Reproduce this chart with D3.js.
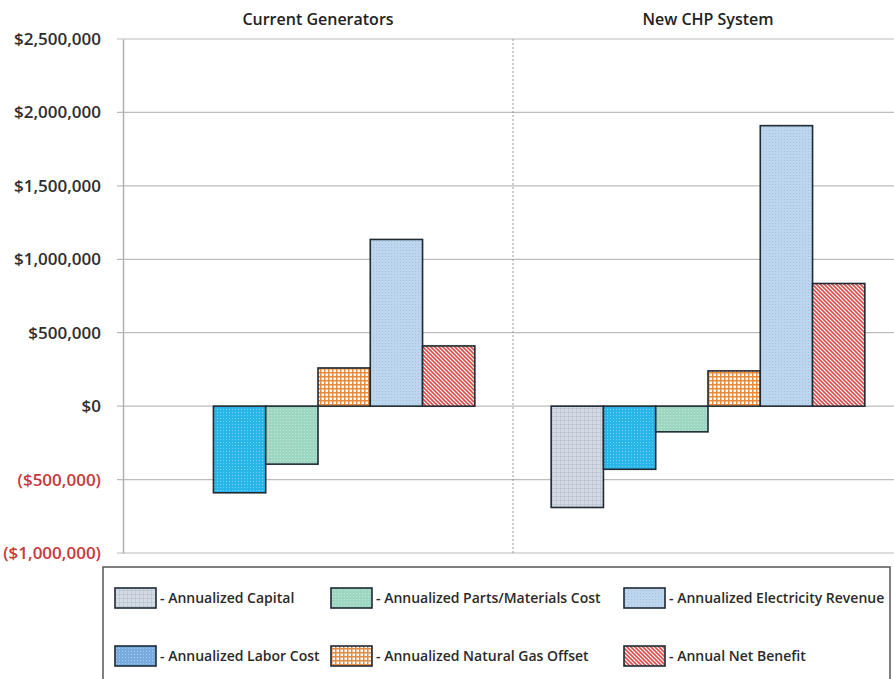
<!DOCTYPE html>
<html>
<head>
<meta charset="utf-8">
<script src="https://cdn.jsdelivr.net/npm/d3@7"></script>
<style>
  body { margin: 0; background: #fff; }
  svg { display: block; font-family: "Open Sans", sans-serif; }
</style>
</head>
<body>
<svg id="chart" width="894" height="679"></svg>
<script>
// chart values
let groups = ["Current Generators", "New CHP System"];
let seriesNames = [
  "Annualized Capital",
  "Annualized Labor Cost",
  "Annualized Parts/Materials Cost",
  "Annualized Natural Gas Offset",
  "Annualized Electricity Revenue",
  "Annual Net Benefit"
];
let currentValues = [0, -590000, -395000, 260000, 1135000, 410000];
let chpValues = [-690000, -430000, -175000, 240000, 1910000, 835000];
let tickValues = [-1000000, -500000, 0, 500000, 1000000, 1500000, 2000000, 2500000];

let svg = d3.select("#chart");
let defs = svg.append("defs");

// fill patterns, one per series
let makePattern = (id, size, bg, draw) => {
  let p = defs.append("pattern")
    .attr("id", id)
    .attr("patternUnits", "userSpaceOnUse")
    .attr("width", size)
    .attr("height", size);
  p.append("rect").attr("width", size).attr("height", size).attr("fill", bg);
  draw(p);
};

makePattern("p0", 4, "#d4dbe5", (p) => {
  p.append("path").attr("d", "M0,0.5H4M0.5,0V4").attr("stroke", "#bcc6d2").attr("stroke-width", 0.8);
});
makePattern("p1", 3, "#2ab5e8", (p) => {
  p.append("rect").attr("x", 1).attr("y", 1).attr("width", 1).attr("height", 1).attr("fill", "#6fd3f6");
});
makePattern("p1legend", 3, "#78acde", (p) => {
  p.append("rect").attr("x", 1).attr("y", 1).attr("width", 1).attr("height", 1).attr("fill", "#a8cbed");
});
makePattern("p2", 3, "#9dd7c2", (p) => {
  p.append("rect").attr("x", 1).attr("y", 1).attr("width", 1).attr("height", 1).attr("fill", "#bfe6d7");
});
makePattern("p3", 4, "#ffffff", (p) => {
  p.append("path").attr("d", "M0,0.75H4M0.75,0V4").attr("stroke", "#e88a3c").attr("stroke-width", 1.5);
});
makePattern("p4", 3, "#bdd6ed", (p) => {
  p.append("rect").attr("x", 1).attr("y", 1).attr("width", 1).attr("height", 1).attr("fill", "#a3c3e3");
});
makePattern("p5", 4, "#ffffff", (p) => {
  p.append("path").attr("d", "M-1,-1L5,5M-1,3L1,5M3,-1L5,1").attr("stroke", "#d94f4c").attr("stroke-width", 1.6);
});

let fills = ["url(#p0)", "url(#p1)", "url(#p2)", "url(#p3)", "url(#p4)", "url(#p5)"];
let legendFills = ["url(#p0)", "url(#p1legend)", "url(#p2)", "url(#p3)", "url(#p4)", "url(#p5)"];

let plotLeft = 123, plotRight = 903, plotTop = 39, plotBottom = 553;

let y = d3.scaleLinear().domain([-1000000, 2500000]).range([plotBottom, plotTop]);
let x0 = d3.scaleBand().domain(groups).range([plotLeft, plotRight]);
let x1 = d3.scaleBand().domain(seriesNames).range([0, x0.bandwidth()]).paddingOuter(0.73);

let fmt = (v) => {
  if (v === 0) return "$0";
  let s = "$" + d3.format(",")(Math.abs(v));
  return v < 0 ? "(" + s + ")" : s;
};

// gridlines
svg.append("g")
  .selectAll("line")
  .data(tickValues)
  .enter()
  .append("line")
  .attr("x1", plotLeft - 6)
  .attr("x2", 894)
  .attr("y1", (d) => y(d))
  .attr("y2", (d) => y(d))
  .attr("stroke", "#bcbcbc")
  .attr("stroke-width", 1.2);

// y axis
let yAxis = svg.append("g")
  .attr("transform", "translate(" + plotLeft + ",0)")
  .call(d3.axisLeft(y).tickValues(tickValues).tickFormat(fmt).tickSize(0).tickPadding(22));
yAxis.select(".domain").attr("stroke", "#b0b0b0").attr("stroke-width", 1.5);
yAxis.selectAll("text")
  .attr("font-size", 17)
  .attr("font-weight", 600)
  .attr("font-family", "Open Sans, sans-serif")
  .attr("fill", (d) => d < 0 ? "#c8393a" : "#2e2e2e");

// divider between the two groups
svg.append("line")
  .attr("x1", x0(groups[1]))
  .attr("x2", x0(groups[1]))
  .attr("y1", plotTop)
  .attr("y2", plotBottom)
  .attr("stroke", "#9a9a9a")
  .attr("stroke-dasharray", "2,2");

// group titles
svg.append("g")
  .selectAll("text")
  .data(groups)
  .enter()
  .append("text")
  .attr("x", (g) => x0(g) + x0.bandwidth() / 2)
  .attr("y", 25)
  .attr("text-anchor", "middle")
  .attr("font-size", 16)
  .attr("font-weight", 600)
  .attr("fill", "#222")
  .text((g) => g);

// bars
let rows = [];
groups.forEach((g, gi) => {
  let vals = gi === 0 ? currentValues : chpValues;
  vals.forEach((v, i) => {
    if (v !== 0) rows.push({ group: g, name: seriesNames[i], index: i, value: v });
  });
});

svg.append("g")
  .selectAll("rect")
  .data(rows)
  .enter()
  .append("rect")
  .attr("x", (d) => x0(d.group) + x1(d.name))
  .attr("width", x1.bandwidth())
  .attr("y", (d) => y(Math.max(0, d.value)))
  .attr("height", (d) => Math.abs(y(d.value) - y(0)))
  .attr("fill", (d) => fills[d.index])
  .attr("stroke", "#1f2a35")
  .attr("stroke-width", 1.6);

// legend
svg.append("rect")
  .attr("x", 103)
  .attr("y", 567)
  .attr("width", 787)
  .attr("height", 130)
  .attr("fill", "#fff")
  .attr("stroke", "#555")
  .attr("stroke-width", 1.5);

let legendCols = [115, 331, 624];
let legendRows = [598, 656];

// column-major: capital/labor, parts/gas, electricity/net
let item = svg.append("g")
  .selectAll("g")
  .data(seriesNames)
  .enter()
  .append("g")
  .attr("transform", (d, i) => {
    return "translate(" + legendCols[Math.floor(i / 2)] + "," + legendRows[i % 2] + ")";
  });

item.append("rect")
  .attr("x", 0)
  .attr("y", -10)
  .attr("width", 41)
  .attr("height", 20)
  .attr("fill", (d, i) => legendFills[i])
  .attr("stroke", "#1f2a35")
  .attr("stroke-width", 1.6);

item.append("text")
  .attr("x", 45)
  .attr("y", 5)
  .attr("font-size", 14)
  .attr("font-weight", 600)
  .attr("fill", "#2a2a2a")
  .text((d) => "- " + d);
</script>
</body>
</html>
